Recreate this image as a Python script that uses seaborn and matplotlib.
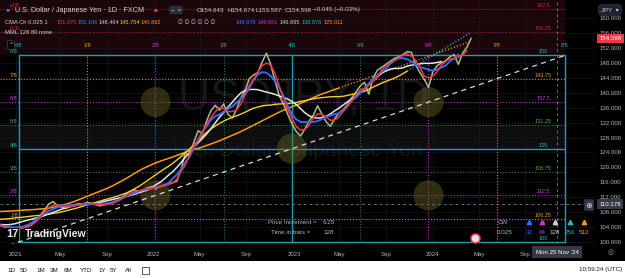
import numpy as np
import pandas as pd
import matplotlib
matplotlib.use("Agg")
import matplotlib.pyplot as plt
import seaborn as sns
from matplotlib.patches import Rectangle

# closes sampled every 8 bars, last value = current bar
step = 8
last_bar = 848
closes = [109.5, 110.5, 111.0, 110.0, 109.0, 109.5, 110.5, 111.0, 110.5, 109.5,
          110.0, 110.5, 109.5, 109.0, 108.5, 108.0, 107.5,
          107.0, 106.5, 106.0, 106.5, 107.0, 106.0, 105.5, 106.0, 106.5, 106.0,
          105.5, 105.0, 105.5, 105.2, 104.8, 104.6,
          104.3, 103.8, 103.4, 103.5, 103.7, 103.9, 104.2, 104.6, 105.8, 107.2,
          108.6, 110.2, 110.8, 109.8, 109.3, 109.0, 109.6, 110.0, 110.3, 110.2,
          110.6, 110.4, 110.0, 109.7, 110.0, 110.2, 110.6, 111.0, 111.6, 112.8,
          113.5, 114.0, 113.6, 113.8, 114.4, 114.8, 114.2, 114.9, 115.3, 115.6,
          115.9, 116.3, 119.5, 124.0, 122.8, 126.8, 129.8, 129.0, 132.5, 135.2,
          136.6, 135.3, 137.0, 134.2, 133.2, 135.5, 138.6, 140.5, 143.8, 144.8,
          145.4, 148.2, 150.6, 147.6, 143.2, 139.2, 137.0, 134.2, 131.6, 129.6,
          128.4, 130.2, 132.4, 134.0, 136.5, 134.3, 132.2, 131.0, 133.0, 134.6,
          135.5, 136.8, 138.6, 140.2, 141.8, 142.8, 139.6, 144.0, 146.0, 146.8,
          147.6, 148.4, 149.2, 149.6, 150.2, 151.0, 150.8, 147.4, 145.4, 143.6,
          141.4, 145.6, 147.2, 148.0, 148.6, 149.6, 150.2, 147.6, 150.6, 152.2,
          154.6]
bars = last_bar - step * (len(closes) - 1) + step * np.arange(len(closes))

# centered moving averages
ma_periods = [32, 64, 128, 256, 512]
ma_colors = ['#f7323f', '#2f6bff', '#e4e4e4', '#f0d02a', '#ff9810']
ma_widths = [1.1, 1.4, 1.1, 1.0, 1.1]
# dotted projections to the current bar (yellow end -> cyan, orange end -> orange)
proj_from = {256: '#22b8c8', 512: '#ff9810'}
proj_to = {256: 156.2, 512: 153.8}

# Murrey math grid
octave_bars = [0, 128, 256, 384, 512, 640, 768, 896, 1024]
levels = [100, 106.25, 112.5, 118.75, 125, 131.25, 137.5, 143.75, 150, 156.25, 162.5]
level_names = ['0/8', '1/8', '2/8', '3/8', '4/8', '5/8', '6/8', '7/8', '8/8', '+1/8', '+2/8']
cyan, orange, magenta, green, red = '#1f9fae', '#d08a1a', '#b32cc6', '#2f7a32', '#a3202e'
level_colors = [cyan, orange, magenta, green, cyan, green, magenta, orange, cyan, red, red]
label_colors = ['#26b3c2', '#e09a20', '#c040d8', '#5fa84a', '#26b3c2', '#5fa84a',
                '#c040d8', '#e09a20', '#26b3c2', '#c8283a', '#c8283a']
circle_t = [2, 6, 2, 6, 4]
circle_p = [6, 6, 2, 2, 4]

price_ticks = list(range(100, 161, 4))
tick_bars = [-6, 77, 165, 253, 339, 426, 516, 600, 688, 776, 863, 949]
tick_labels = ['2021', 'May', 'Sep', '2022', 'May', 'Sep', '2023', 'May', 'Sep',
               '2024', 'May', 'Sep']
cross_bar, cross_price, cross_date = 1009, 110.178, "Mon 25 Nov '24"
last_price = 154.598
cw_periods = ['32', '64', '128', '256', '512']
cw_colors = ['#2f6bff', '#d030e0', '#d0d0d0', '#22b8c8', '#ff9810']

W, H = 625, 278
def fx(x): return x / W
def fy(y): return 1 - y / H

sns.set_theme(style="dark")
plt.rcParams['font.family'] = ['Liberation Sans', 'DejaVu Sans']
plt.rcParams['axes.facecolor'] = '#000000'
plt.rcParams['figure.facecolor'] = '#000000'

fig = plt.figure(figsize=(W / 100, H / 100), dpi=100)
ax = fig.add_axes([0, fy(244), 595 / W, 244 / H])
ppb = 68.25 / 128
ppu = 3.732
ax.set_xlim(-19 / ppb, (595 - 19) / ppb)
ax.set_ylim(100 - 2 / ppu, 100 + 242 / ppu)
xl = ax.get_xlim()
top = ax.get_ylim()[1]

# background bands
ax.fill_between([xl[0], octave_bars[-1]], levels[8], top, color='#1a0608', lw=0, zorder=0)
ax.fill_between([xl[0], octave_bars[-1]], levels[4], levels[5], color='#0e0e0e', lw=0, zorder=0)

ax.grid(True, color='#13161c', lw=0.5, zorder=0.2)
ax.set_yticks(price_ticks)
ax.set_yticklabels([f"{v:.3f}" for v in price_ticks])
ax.set_xticks(tick_bars)
ax.set_xticklabels(tick_labels)
ax.yaxis.tick_right()
ax.tick_params(axis='y', length=0, pad=3.5, labelsize=4.4, labelcolor='#b2b5be')
ax.tick_params(axis='x', length=0, pad=5.5, labelsize=4.4, labelcolor='#b2b5be')
for sp in ax.spines.values():
    sp.set_visible(False)

# watermark
ax.text(0.51, 0.6, "USDJPY, 1D", transform=ax.transAxes, ha='center', va='center',
        fontsize=32, color='#171717', zorder=0.5)
ax.text(0.5, 0.385, "U.S. Dollar / Japanese Yen", transform=ax.transAxes, ha='center',
        va='center', fontsize=15, color='#171717', zorder=0.5)

# grid lines of the octave
for i, (lv, col) in enumerate(zip(levels, level_colors)):
    if i in (0, 4, 8):
        ax.plot([octave_bars[0], octave_bars[-1]], [lv, lv], color=col, lw=1.0, zorder=1)
    else:
        ax.plot([xl[0], octave_bars[-1]], [lv, lv], color=col, lw=0.8, ls=(0, (1, 1.6)), zorder=1)
    ax.annotate(level_names[i], xy=(14 / 595, lv), xycoords=('axes fraction', 'data'),
                xytext=(0, 2.6), textcoords='offset points', ha='center', va='center',
                fontsize=4.0, color=label_colors[i], zorder=1.2)
    ax.annotate(f"{lv:g}", xy=(983, lv), xytext=(0, 2.6), textcoords='offset points',
                ha='center', va='center', fontsize=4.0, color=label_colors[i], zorder=5)
for i, tb in enumerate(octave_bars):
    col = level_colors[i]
    if i in (0, 4, 8):
        ax.plot([tb, tb], [levels[0], levels[8]], color=col, lw=1.0, zorder=1)
    else:
        ax.plot([tb, tb], [levels[0], levels[8]], color=col, lw=0.8, ls=(0, (1, 1.6)), zorder=1)
    ax.annotate(level_names[i], xy=(tb, levels[8]), xytext=(0, 7.2), textcoords='offset points',
                ha='center', va='center', fontsize=4.0, color=label_colors[i], zorder=5)

sns.scatterplot(x=[octave_bars[t] for t in circle_t], y=[levels[p] for p in circle_p],
                s=470, color='#6e6822', alpha=0.42, edgecolor='none', ax=ax, zorder=1.5,
                legend=False)

# 1x1 angle
ax.plot([xl[0], octave_bars[-1]], [levels[0] + (levels[8] - levels[0]) * xl[0] / octave_bars[-1], levels[8]],
        color='#d8d8d8', lw=0.9, ls=(0, (4, 3.5)), zorder=2)

# crosshair
ax.axvline(cross_bar, color='#6a6d78', lw=0.7, ls=(0, (3, 3)), zorder=2)
ax.axhline(cross_price, color='#6a6d78', lw=0.7, ls=(0, (3, 3)), zorder=2)

# price and moving averages
sns.lineplot(x=bars, y=closes, ax=ax, color='#a9bb86', lw=1.1, zorder=3)
s = pd.Series(closes, index=bars, dtype=float)
for period, col, lw in zip(ma_periods[::-1], ma_colors[::-1], ma_widths[::-1]):
    m = s.rolling(period // step, center=True).mean().dropna()
    sns.lineplot(x=m.index, y=m.values, ax=ax, color=col, lw=lw, zorder=4)
    if period in proj_from:
        ax.plot([m.index[-1], last_bar], [m.values[-1], proj_to[period]],
                color=proj_from[period], lw=0.9, ls=(0, (1, 1.5)), zorder=4)

# bottom info
info = dict(transform=ax.transAxes, va='center', fontsize=4.5, color='#b2b5be', zorder=5)
ax.text(317 / 595, 1 - 222 / 244, "Price Increment =", ha='right', **info)
ax.text(323 / 595, 1 - 222 / 244, "6.25", ha='left', **info)
ax.text(310 / 595, 1 - 233 / 244, "Time in bars =", ha='right', **info)
ax.text(323 / 595, 1 - 233 / 244, "128", ha='left', **info)
ax.text(503 / 595, 1 - 222 / 244, "CW", ha='center', **info)
ax.text(505 / 595, 1 - 233 / 244, "0.025", ha='center', **info)
for i, (lab, col) in enumerate(zip(cw_periods, cw_colors)):
    xp = [529, 542, 555, 570, 584][i] / 595
    ax.plot([xp], [1 - 222 / 244], marker='^', ms=3.2, color=col, transform=ax.transAxes,
            clip_on=False, zorder=5)
    ax.text(xp, 1 - 233 / 244, lab, transform=ax.transAxes, ha='center', va='center',
            fontsize=4.5, color=col, zorder=5)
ax.plot([475 / 595], [1 - 238 / 244], marker='o', ms=6.5, mfc='#dfe3ee', mec='#f23645',
        mew=1.1, transform=ax.transAxes, zorder=5)

# TradingView logo
ax.text(6 / 595, 1 - 234 / 244, "17", transform=ax.transAxes, ha='left', va='center',
        fontsize=8, weight='bold', color='#e8e8e8', zorder=5,
        bbox=dict(boxstyle='square,pad=0.1', fc='#000000', ec='none'))
ax.text(25 / 595, 1 - 234 / 244, "TradingView", transform=ax.transAxes, ha='left',
        va='center', fontsize=7.6, weight='bold', color='#e8e8e8', zorder=5)

# price axis labels
ax.annotate(f"{last_price:.3f}", xy=(1.0, last_price), xycoords=('axes fraction', 'data'),
            xytext=(3.3, 0), textcoords='offset points', ha='left', va='center', fontsize=4.4,
            color='white', annotation_clip=False,
            bbox=dict(boxstyle='square,pad=0.35', fc='#f23645', ec='none'))
ax.annotate(f"{cross_price:.3f}", xy=(1.0, cross_price), xycoords=('axes fraction', 'data'),
            xytext=(3.3, 0), textcoords='offset points', ha='left', va='center', fontsize=4.4,
            color='white', annotation_clip=False,
            bbox=dict(boxstyle='square,pad=0.35', fc='#363a45', ec='none'))
fig.text(fx(589), fy(205), "⊕", ha='center', va='center', fontsize=6, color='#d1d4dc',
         family='DejaVu Sans',
         bbox=dict(boxstyle='round,pad=0.15', fc='#363a45', ec='none'))
ax.annotate(cross_date, xy=(cross_bar, 0), xycoords=('data', 'axes fraction'),
            xytext=(0, -5.8), textcoords='offset points', ha='center', va='center',
            fontsize=4.4, color='white', annotation_clip=False,
            bbox=dict(boxstyle='square,pad=0.55', fc='#363a45', ec='none'))
fig.text(fx(611), fy(252), "◎", ha='center', va='center', fontsize=5, color='#9598a1',
         family='DejaVu Sans')
fig.text(fx(610), fy(10), "JPY  ▾", ha='center', va='center', fontsize=4.4, color='#d1d4dc',
         family=['Liberation Sans', 'DejaVu Sans'],
         bbox=dict(boxstyle='round,pad=0.45', fc='#1e222d', ec='#363a45', lw=0.5))

# header
hc = '#d1d4dc'
fig.text(fx(8), fy(10), "●", ha='center', va='center', fontsize=5, color='#4a78d8')
fig.text(fx(15), fy(10), "U.S. Dollar / Japanese Yen · 1D · FXCM", ha='left', va='center',
         fontsize=5.2, color=hc)
fig.text(fx(156), fy(10), "■", ha='center', va='center', fontsize=4.5, color='#f23645')
fig.text(fx(176), fy(10), "−  =", ha='center', va='center', fontsize=4.2, color='#d1d4dc',
         bbox=dict(boxstyle='round,pad=0.3', fc='#2a2e39', ec='none'))
for xp, t in zip([197, 227, 256, 285, 313],
                 ["O154.643", "H154.674", "L153.587", "C154.598", "−0.045 (−0.03%)"]):
    fig.text(fx(xp), fy(10), t, ha='left', va='center', fontsize=4.5, color=hc)
fig.text(fx(5), fy(22), "CMA Ch 0.025 1", ha='left', va='center', fontsize=4.2, color=hc)
head_vals = ["151.070", "150.106", "148.464", "145.754", "140.892", "∅ ∅ ∅ ∅ ∅ ∅",
             "149.878", "146.651", "146.695", "138.876", "125.011"]
head_cols = ['#f7323f', '#3f7bff', hc, '#f0d02a', '#ff9810', hc,
             '#3f7bff', '#d030e0', hc, '#22b8c8', '#ff9810']
for xp, t, c in zip([57, 78, 99, 120, 141, 178, 236, 258, 280, 302, 324], head_vals, head_cols):
    fig.text(fx(xp), fy(22), t, ha='left', va='center', fontsize=4.1, color=c)
fig.text(fx(5), fy(33), "MML 128 80 none", ha='left', va='center', fontsize=4.2, color=hc)
fig.text(fx(11), fy(45), "^", ha='center', va='center', fontsize=4.5, color=hc,
         bbox=dict(boxstyle='round,pad=0.35', fc='#000000', ec='#434651', lw=0.5))

# bottom toolbar
fig.add_artist(Rectangle((0, 0), 1, 17 / H, transform=fig.transFigure, fc='white', ec='none'))
for xp, t in zip([7, 20, 36, 50, 64, 80, 98, 110, 125],
                 ["1D", "5D", "1M", "3M", "6M", "YTD", "1Y", "5Y", "All"]):
    fig.text(fx(xp), fy(270), t, ha='left', va='center', fontsize=4.5, color='#131722')
fig.add_artist(Rectangle((fx(142), fy(274)), 7 / W, 7 / H, transform=fig.transFigure,
                         fc='none', ec='#131722', lw=0.5))
fig.text(fx(622), fy(270), "10:59:24 (UTC)", ha='right', va='center', fontsize=4.5,
         color='#131722')

fig.savefig("out.png", dpi=100, facecolor=fig.get_facecolor())
